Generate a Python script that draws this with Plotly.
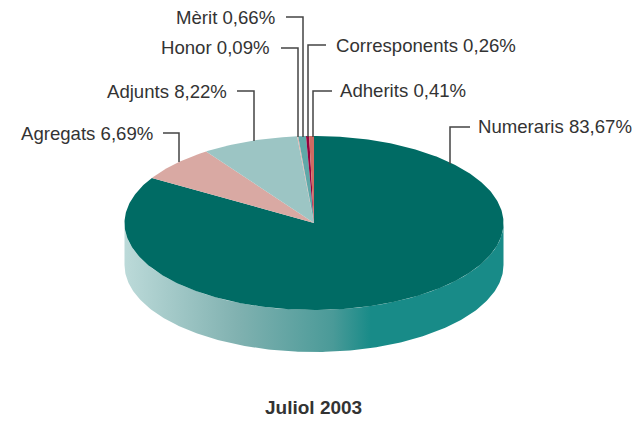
import numpy as np
import plotly.graph_objects as go

categories = ["Numeraris", "Agregats", "Adjunts", "Honor", "Mèrit", "Corresponents", "Adherits"]
values = [83.67, 6.69, 8.22, 0.09, 0.66, 0.26, 0.41]
value_labels = ["83,67%", "6,69%", "8,22%", "0,09%", "0,66%", "0,26%", "0,41%"]
colors = ["#006b64", "#d9a9a3", "#9cc5c4", "#e3b0aa", "#5fa8a8", "#96003c", "#cf6a62"]
title = "Juliol 2003"

W, H = 633, 421
CX, CY, RX, RY, DEPTH = 314, 223, 189.5, 87, 42
TEXT = "#333333"
LEAD = "#444444"

# label layout: category -> (elbow path, text x, text y, anchor)
label_layout = {
    "Numeraris": ([(450, 164), (450, 127), (470, 127)], 476, 126, "left"),
    "Agregats": ([(179, 162), (179, 133), (163, 133)], 155, 133, "right"),
    "Adjunts": ([(254, 141), (254, 91), (237, 91)], 229, 91, "right"),
    "Honor": ([(298, 137), (298, 48), (281, 48)], 272, 47, "right"),
    "Mèrit": ([(303, 137), (303, 17), (286, 17)], 277, 17, "right"),
    "Corresponents": ([(308, 137), (308, 45), (326, 45)], 334, 45, "left"),
    "Adherits": ([(313, 137), (313, 91), (332, 91)], 338, 90, "left"),
}

fig = go.Figure()

def ell(theta):
    return CX + RX * np.sin(theta), CY - RY * np.cos(theta)

# side wall (front half of the cylinder)
t = np.linspace(np.pi / 2, 3 * np.pi / 2, 240)
xs, ys = ell(t)
fig.add_trace(go.Scatter(
    x=np.r_[xs, xs[::-1]], y=np.r_[ys, ys[::-1] + DEPTH],
    mode="lines", line=dict(width=0), fill="toself", hoverinfo="skip",
    fillgradient=dict(type="horizontal", colorscale=[
        [0, "#bcdad9"], [0.30, "#80b1b0"], [0.55, "#4a9a98"],
        [0.65, "#188b88"], [1, "#188b88"]]),
    showlegend=False))

# top face wedges, clockwise from 12 o'clock
total = sum(values)
start = 0.0
for cat, val, col in zip(categories, values, colors):
    end = start + val / total * 2 * np.pi
    a = np.linspace(start, end, max(3, int((end - start) * 80)))
    ex, ey = ell(a)
    fig.add_trace(go.Scatter(
        x=np.r_[CX, ex, CX], y=np.r_[CY, ey, CY], mode="lines",
        line=dict(width=0), fill="toself", fillcolor=col,
        name=cat, hoverinfo="name", showlegend=False))
    start = end

# leaders and labels
annotations = []
for cat, val_label in zip(categories, value_labels):
    path, tx, ty, anchor = label_layout[cat]
    fig.add_trace(go.Scatter(
        x=[p[0] for p in path], y=[p[1] for p in path], mode="lines",
        line=dict(color=LEAD, width=1.5), hoverinfo="skip", showlegend=False))
    annotations.append(dict(
        x=tx, y=ty, xref="x", yref="y", text=f"{cat} {val_label}", showarrow=False,
        xanchor=anchor, yanchor="middle",
        font=dict(family="Liberation Sans", size=18.6, color=TEXT)))
annotations.append(dict(
    x=313.5, y=407, xref="x", yref="y", text=f"<b>{title}</b>", showarrow=False,
    xanchor="center", yanchor="middle",
    font=dict(family="Liberation Sans", size=19, color=TEXT)))

fig.update_layout(
    width=W, height=H, margin=dict(l=0, r=0, t=0, b=0),
    paper_bgcolor="white", plot_bgcolor="white",
    xaxis=dict(range=[0, W], visible=False, fixedrange=True),
    yaxis=dict(range=[H, 0], visible=False, fixedrange=True),
    annotations=annotations)

fig.write_html("out.html", config={"displayModeBar": False},
               post_script="document.body.style.margin='0';document.body.style.overflow='hidden';")
